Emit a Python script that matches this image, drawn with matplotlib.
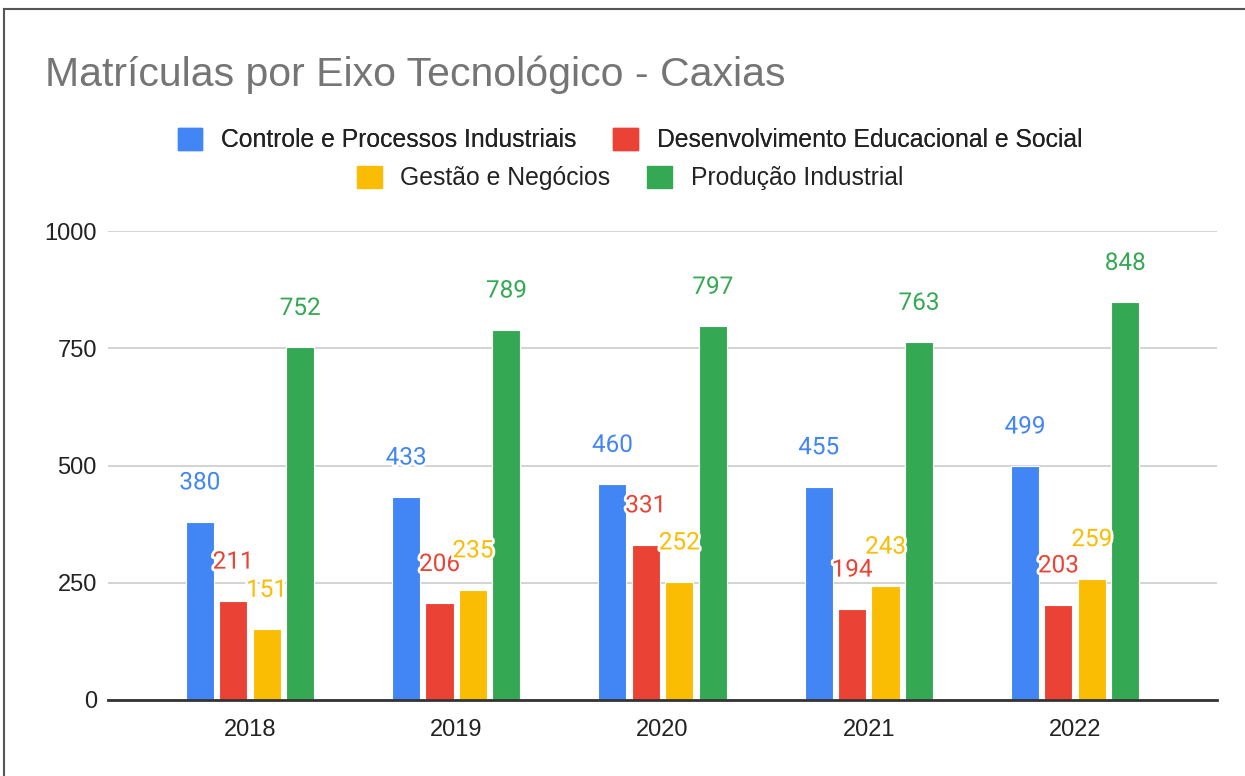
import matplotlib.pyplot as plt
import matplotlib.patheffects as pe
from matplotlib.patches import Patch
from matplotlib.lines import Line2D
import numpy as np

anos = ["2018", "2019", "2020", "2021", "2022"]
series = ["Controle e Processos Industriais", "Desenvolvimento Educacional e Social",
          "Gestão e Negócios", "Produção Industrial"]
controle = [380, 433, 460, 455, 499]
desenvolvimento = [211, 206, 331, 194, 203]
gestao = [151, 235, 252, 243, 259]
producao = [752, 789, 797, 763, 848]
cores = ["#4285F4", "#EA4335", "#FBBC04", "#34A853"]

plt.rcParams['font.family'] = ['Liberation Sans', 'DejaVu Sans']

fig = plt.figure(figsize=(12.45, 7.76), dpi=100)
ax = fig.add_axes([108/1245, 1-700/776, (1217-108)/1245, (700-231)/776])

x = np.arange(len(anos))
largura = 0.136
passo = 0.162
valores = [controle, desenvolvimento, gestao, producao]
for i, (vals, cor) in enumerate(zip(valores, cores)):
    pos = x + (i - 1.5) * passo
    ax.bar(pos, vals, largura, color=cor, edgecolor='white', linewidth=0.8, zorder=3)
    for xp, v in zip(pos, vals):
        ax.annotate(str(v), (xp, v), xytext=(0, 28), textcoords='offset points',
                    ha='center', va='center', color=cor, fontsize=17.5,
                    family=['Roboto', 'DejaVu Sans'], zorder=5, annotation_clip=False,
                    path_effects=[pe.withStroke(linewidth=4, foreground='white')])

ax.set_xlim(-0.688, 4.688)
ax.set_ylim(0, 1000)
ax.set_yticks([0, 250, 500, 750, 1000])
ax.set_xticks(x)
ax.set_xticklabels(anos)
ax.tick_params(axis='both', length=0, labelsize=17, colors='#222222')
ax.tick_params(axis='y', pad=8)
ax.tick_params(axis='x', pad=14)
ax.grid(axis='y', color='#cccccc', linewidth=1.2, zorder=0)
for s in ['top', 'right', 'left']:
    ax.spines[s].set_visible(False)
ax.spines['bottom'].set_color('#333333')
ax.spines['bottom'].set_linewidth(2)
ax.spines['bottom'].set_zorder(4)

fig.text(45/1245, 1-75/776, "Matrículas por Eixo Tecnológico - Caxias", fontsize=29.5,
         color='#757575', ha='left', va='center')

handles = [Patch(facecolor=c, edgecolor=c) for c in cores]
leg1 = fig.legend(handles[:2], series[:2], loc='center', ncol=2,
                  bbox_to_anchor=(630/1245, 1-140/776), frameon=False, fontsize=17.8,
                  handlelength=1.0, handleheight=1.0, handletextpad=0.75,
                  columnspacing=1.5, borderpad=0, borderaxespad=0)
leg2 = fig.legend(handles[2:], series[2:], loc='center', ncol=2,
                  bbox_to_anchor=(630/1245, 1-178/776), frameon=False, fontsize=17.8,
                  handlelength=1.0, handleheight=1.0, handletextpad=0.75,
                  columnspacing=1.5, borderpad=0, borderaxespad=0)
for leg in (leg1, leg2):
    for t in leg.get_texts():
        t.set_color('#222222')
fig.add_artist(leg1)

# moldura (apenas topo e esquerda)
fig.add_artist(Line2D([4/1245, 4/1245], [0, 1-9/776], color='#555555', linewidth=1.5))
fig.add_artist(Line2D([4/1245, 1], [1-9/776, 1-9/776], color='#555555', linewidth=1.5))

fig.savefig('out.png', dpi=100, facecolor='white')
